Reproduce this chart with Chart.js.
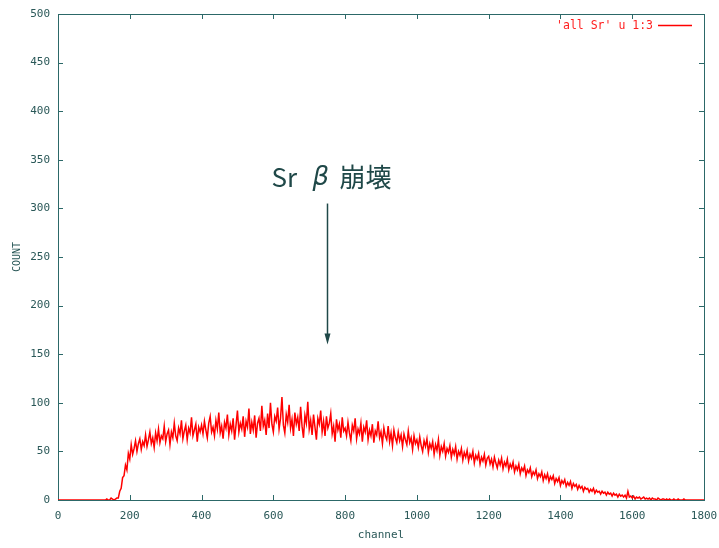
<!DOCTYPE html>
<html>
<head>
<meta charset="utf-8">
<script src="https://cdn.jsdelivr.net/npm/chart.js@4"></script>
<style>
html,body{margin:0;padding:0;background:#fff;}
canvas{display:block;}
</style>
</head>
<body>
<canvas id="c" width="719" height="548"></canvas>
<script>
// ---- data (channel step 4) ----
const CHANNEL_STEP = 4;
const countsA = [ // channels 0..396
  0,0,0,0,0,0,0,0,0,0, 0,0,0,0,0,0,0,0,0,0, 0,0,0,0,0,0,0,0,0,0, 0,0,0,
  0,1,0,0,2,1,0,1,2,
  2,9,12,23,25,36,31,48,42,57,
  47,53,61,50,58,63,52,60,56,67,
  55,62,70,58,64,54,69,61,73,59,
  66,63,76,60,68,72,57,70,64,79,
  66,61,74,68,82,63,71,77,62,74,
  69,85,66,72,78,60,75,70
];
const countsB = [ // channels 400..796
  77,68,81,72,64,79,86,70,75,66,
  82,73,90,69,76,63,80,74,88,67,
  78,71,84,62,77,92,70,79,73,86,
  65,81,75,94,68,80,72,87,64,79,
  84,71,97,76,82,67,89,74,100,78,
  70,86,81,95,73,84,106,77,69,88,
  80,98,74,83,66,90,78,85,71,96,
  76,64,87,79,101,73,82,67,88,75,
  62,84,78,92,70,81,66,86,74,79,
  89,68,76,60,83,72,78,64,85,71
];
const countsC = [ // channels 800..1196
  74,66,80,69,61,77,71,84,63,73,
  68,79,60,75,70,82,62,72,66,78,
  59,71,67,81,64,70,58,74,66,62,
  76,60,69,56,72,64,59,70,61,67,
  55,68,62,57,71,59,64,52,66,58,
  62,54,65,56,50,61,55,63,49,58,
  53,60,47,57,51,62,46,55,50,58,
  45,53,49,56,44,52,47,55,42,50,
  46,53,41,49,44,51,40,47,43,50,
  38,46,42,48,37,44,40,47,36,43
];
const countsD = [ // channels 1200..1596
  45,37,42,34,44,38,33,41,36,43,
  32,39,35,42,31,37,33,39,29,35,
  31,37,27,33,30,35,25,31,28,33,
  24,29,26,31,22,27,24,29,20,26,
  22,27,19,24,21,25,17,22,19,23,
  15,20,17,21,14,18,15,19,12,17,
  14,16,11,15,12,14,9,13,11,12,
  8,11,9,12,7,10,8,9,6,9,
  7,8,5,8,6,7,4,7,5,6,
  3,6,4,5,3,5,2,9,3,4
];
const countsE = [ // channels 1600..1800
  2,4,1,3,2,3,1,2,3,1,
  2,1,2,0,2,1,1,0,2,1,
  0,1,1,0,1,0,1,0,0,1,
  0,0,1,0,0,0,1,0,0,0,
  0,0,0,0,0,0,0,0,0,0,0
];
const xTickValues = [0,200,400,600,800,1000,1200,1400,1600,1800];
const yTickValues = [0,50,100,150,200,250,300,350,400,450,500];
const seriesLabel = "'all Sr' u 1:3";
const annotationText = ["Sr", "\u03B2", "\u5D29\u58CA"];
const annotationAt = {x: 750, textY: 332, arrowFrom: 305, arrowTo: 160};

const counts = countsA.concat(countsB, countsC, countsD, countsE);
const points = counts.map((v, i) => ({x: i * CHANNEL_STEP, y: v}));

const AXIS = '#2c6868';
const TXT = '#2a5858';
const MONO = '"DejaVu Sans Mono", "Liberation Mono", monospace';

const framePlugin = {
  id: 'frame',
  beforeDatasetsDraw(chart) {
    const {ctx, chartArea: a, scales: {x, y}} = chart;
    ctx.save();
    ctx.strokeStyle = AXIS;
    ctx.lineWidth = 1;
    ctx.strokeRect(Math.round(a.left) + 0.5, Math.round(a.top) + 0.5,
                   Math.round(a.right - a.left), Math.round(a.bottom - a.top));
    ctx.beginPath();
    const L = 5;
    xTickValues.forEach(v => {
      const px = Math.round(x.getPixelForValue(v)) + 0.5;
      ctx.moveTo(px, a.bottom); ctx.lineTo(px, a.bottom - L);
      ctx.moveTo(px, a.top); ctx.lineTo(px, a.top + L);
    });
    yTickValues.forEach(v => {
      const py = Math.round(y.getPixelForValue(v)) + 0.5;
      ctx.moveTo(a.left, py); ctx.lineTo(a.left + L, py);
      ctx.moveTo(a.right, py); ctx.lineTo(a.right - L, py);
    });
    ctx.stroke();
    ctx.restore();
  },
  afterDraw(chart) {
    const {ctx, chartArea: a, scales: {x, y}} = chart;
    ctx.save();
    // axis titles
    ctx.fillStyle = TXT;
    ctx.font = '11px ' + MONO;
    ctx.textAlign = 'center';
    ctx.textBaseline = 'middle';
    ctx.fillText('channel', (a.left + a.right) / 2, a.bottom + 35);
    ctx.save();
    ctx.translate(17, (a.top + a.bottom) / 2);
    ctx.rotate(-Math.PI / 2);
    ctx.font = '10px ' + MONO;
    ctx.fillText('COUNT', 0, 0);
    ctx.restore();

    // key (gnuplot style: text then line sample)
    ctx.fillStyle = '#ff2020';
    ctx.font = '11.5px ' + MONO;
    ctx.textAlign = 'right';
    ctx.fillText(seriesLabel, a.right - 51, a.top + 12);
    ctx.strokeStyle = '#ff0000';
    ctx.lineWidth = 1.5;
    ctx.beginPath();
    ctx.moveTo(a.right - 46, a.top + 11.5);
    ctx.lineTo(a.right - 12, a.top + 11.5);
    ctx.stroke();

    // annotation
    const ax = Math.round(x.getPixelForValue(annotationAt.x)) + 0.5;
    const ty = y.getPixelForValue(annotationAt.textY);
    ctx.fillStyle = '#1f4848';
    ctx.textAlign = 'left';
    ctx.textBaseline = 'middle';
    ctx.font = '26px "Noto Sans CJK JP", "Noto Sans", sans-serif';
    ctx.fillText(annotationText[0], ax - 56, ty);
    ctx.font = 'italic 26px "DejaVu Sans", "Noto Sans", sans-serif';
    ctx.fillText(annotationText[1], ax - 15, ty + 1);
    ctx.font = '26px "Noto Sans CJK JP", sans-serif';
    ctx.fillText(annotationText[2], ax + 12, ty);

    const y0 = y.getPixelForValue(annotationAt.arrowFrom);
    const y1 = y.getPixelForValue(annotationAt.arrowTo);
    ctx.strokeStyle = '#1f4848';
    ctx.lineWidth = 1.5;
    ctx.beginPath();
    ctx.moveTo(ax, y0);
    ctx.lineTo(ax, y1 - 8);
    ctx.stroke();
    ctx.beginPath();
    ctx.moveTo(ax, y1);
    ctx.lineTo(ax - 3, y1 - 11);
    ctx.lineTo(ax + 3, y1 - 11);
    ctx.closePath();
    ctx.fill();
    ctx.restore();
  }
};

new Chart(document.getElementById('c'), {
  type: 'line',
  data: {
    datasets: [{
      label: seriesLabel,
      data: points,
      borderColor: '#ff0000',
      borderWidth: 1.5,
      pointRadius: 0,
      tension: 0,
      fill: false
    }]
  },
  options: {
    responsive: false,
    animation: false,
    layout: {padding: {top: 14, right: 15, left: 0, bottom: 0}},
    plugins: {legend: {display: false}, tooltip: {enabled: false}},
    scales: {
      x: {
        type: 'linear', min: 0, max: 1800,
        afterBuildTicks(s) { s.ticks = xTickValues.map(v => ({value: v})); },
        ticks: {color: TXT, font: {family: MONO, size: 11}, padding: 10, maxRotation: 0, autoSkip: false,
                callback: v => String(v)},
        grid: {display: false, drawTicks: false},
        border: {display: false},
        afterFit(s) { s.height = 48; s.paddingLeft = 0; s.paddingRight = 0; }
      },
      y: {
        min: 0, max: 500,
        afterBuildTicks(s) { s.ticks = yTickValues.map(v => ({value: v})); },
        ticks: {color: TXT, font: {family: MONO, size: 11}, padding: 8, autoSkip: false,
                callback: v => String(v)},
        grid: {display: false, drawTicks: false},
        border: {display: false},
        afterFit(s) { s.width = 58; s.paddingTop = 0; s.paddingBottom = 0; }
      }
    }
  },
  plugins: [framePlugin]
});
</script>
</body>
</html>
